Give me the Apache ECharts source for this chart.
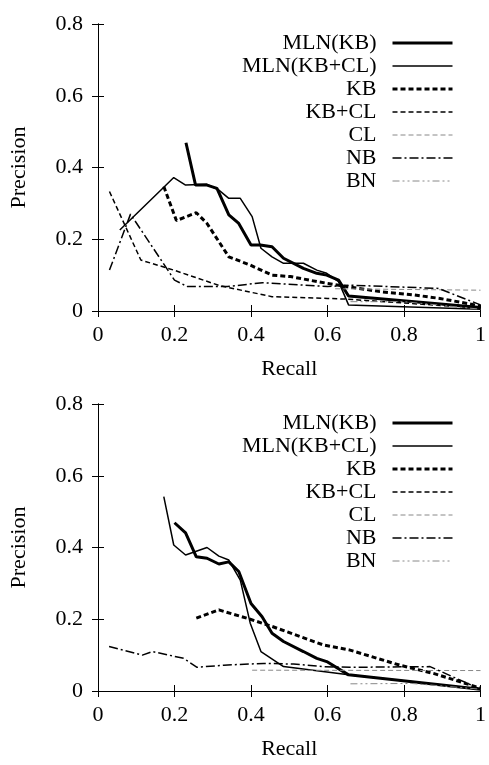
<!DOCTYPE html>
<html>
<head>
<meta charset="utf-8">
<script src="https://cdn.jsdelivr.net/npm/echarts@6/dist/echarts.min.js"></script>
<style>
html,body{margin:0;padding:0;background:#fff;}
#chart{width:489px;height:765px;}
</style>
</head>
<body>
<div id="chart"></div>
<script>
// legend order
var seriesNames = ['MLN(KB)', 'MLN(KB+CL)', 'KB', 'KB+CL', 'CL', 'NB', 'BN'];
var xTicks = [0, 0.2, 0.4, 0.6, 0.8, 1];
var yTicks = [0, 0.2, 0.4, 0.6, 0.8];

// upper chart, [recall, precision]
var topMlnKb = [[0.23,0.469],[0.255,0.351],[0.285,0.351],[0.311,0.342],[0.342,0.268],[0.368,0.244],[0.4,0.184],[0.424,0.184],[0.455,0.179],[0.485,0.147],[0.537,0.119],[0.572,0.105],[0.598,0.1],[0.629,0.086],[0.655,0.042],[1,0.01]];
var topMlnKbCl = [[0.057,0.226],[0.172,0.345],[0.198,0.372],[0.229,0.351],[0.285,0.353],[0.316,0.337],[0.342,0.314],[0.372,0.314],[0.403,0.263],[0.426,0.175],[0.455,0.151],[0.485,0.133],[0.537,0.133],[0.572,0.114],[0.598,0.105],[0.629,0.082],[0.655,0.017],[1,0.005]];
var topKb = [[0.172,0.347],[0.205,0.252],[0.257,0.274],[0.285,0.244],[0.342,0.151],[0.398,0.128],[0.455,0.1],[0.503,0.096],[0.572,0.082],[0.629,0.072],[0.737,0.054],[0.824,0.045],[0.894,0.035],[1,0.014]];
var topKbCl = [[0.03,0.333],[0.112,0.142],[0.198,0.114],[0.32,0.07],[0.455,0.04],[0.6,0.035],[0.65,0.033],[1,0.008]];
var topCl = [[0.62,0.062],[1,0.058]];
var topNb = [[0.03,0.114],[0.085,0.27],[0.2,0.086],[0.234,0.068],[0.338,0.068],[0.43,0.079],[0.6,0.068],[0.66,0.072],[0.89,0.063],[1,0.017]];
var topBn = [[0.66,0.026],[0.8,0.026],[1,0.005]];

// lower chart
var botMlnKb = [[0.2,0.469],[0.229,0.441],[0.257,0.374],[0.285,0.37],[0.316,0.354],[0.342,0.36],[0.368,0.333],[0.4,0.244],[0.429,0.207],[0.455,0.161],[0.485,0.138],[0.537,0.11],[0.572,0.091],[0.598,0.082],[0.655,0.045],[1,0.005]];
var botMlnKbCl = [[0.172,0.542],[0.198,0.407],[0.229,0.379],[0.285,0.4],[0.316,0.376],[0.342,0.365],[0.372,0.309],[0.398,0.189],[0.426,0.11],[0.485,0.068],[0.655,0.045],[1,0.005]];
var botKb = [[0.257,0.203],[0.316,0.226],[0.398,0.2],[0.455,0.18],[0.59,0.128],[0.659,0.114],[0.789,0.072],[0.877,0.049],[1,0.008]];
var botKbCl = [];
var botCl = [[0.403,0.058],[1,0.057]];
var botNb = [[0.029,0.124],[0.116,0.1],[0.142,0.11],[0.224,0.091],[0.259,0.066],[0.329,0.072],[0.433,0.077],[0.511,0.075],[0.59,0.068],[0.659,0.066],[0.868,0.068],[1,0.005]];
var botBn = [[0.66,0.02],[0.82,0.021],[1,0.005]];

var FONT = '"Liberation Serif", "DejaVu Serif", serif';
var FS = 22;

var styles = {
	'MLN(KB)':    {color:'#000', width:3,   type:'solid'},
	'MLN(KB+CL)': {color:'#000', width:1.5, type:'solid'},
	'KB':         {color:'#000', width:3,   type:[5,3]},
	'KB+CL':      {color:'#000', width:1.5, type:[5,3]},
	'CL':         {color:'#888', width:1,   type:[5,3]},
	'NB':         {color:'#000', width:1.5, type:[9,3,2,3]},
	'BN':         {color:'#888', width:1,   type:[7,3,2,3,2,3]}
};

function makeSeries(name, data, idx){
	var s = styles[name];
	return {
		name: name,
		type: 'line',
		xAxisIndex: idx,
		yAxisIndex: idx,
		data: data,
		symbol: 'none',
		animation: false,
		color: s.color,
		itemStyle: {opacity: 0},
		lineStyle: {color: s.color, width: s.width, type: s.type}
	};
}

function xAxisMain(idx){
	return {
		type:'value', gridIndex: idx, min:0, max:1, interval:0.2,
		name:'Recall', nameLocation:'middle', nameGap:47,
		nameTextStyle:{fontFamily:FONT, fontSize:FS, color:'#000'},
		axisLine:{lineStyle:{color:'#000', width:1}},
		axisTick:{inside:true, length:6, lineStyle:{color:'#000'}},
		axisLabel:{fontFamily:FONT, fontSize:FS, color:'#000', margin:13,
			formatter:function(v){ return String(+v.toFixed(1)); }},
		splitLine:{show:false}
	};
}
function xAxisMirror(idx){
	return {
		type:'value', gridIndex: idx, min:0, max:1, interval:0.2, position:'top',
		axisLine:{lineStyle:{color:'#000', width:1}},
		axisTick:{inside:true, length:6, lineStyle:{color:'#000'}},
		axisLabel:{show:false}, splitLine:{show:false}
	};
}
function yAxisMain(idx){
	return {
		type:'value', gridIndex: idx, min:0, max:0.8, interval:0.2,
		name:'Precision', nameLocation:'middle', nameGap:68, nameRotate:90,
		nameTextStyle:{fontFamily:FONT, fontSize:FS, color:'#000'},
		axisLine:{show:true, lineStyle:{color:'#000', width:1}},
		axisTick:{show:true, inside:true, length:6, lineStyle:{color:'#000'}},
		axisLabel:{fontFamily:FONT, fontSize:FS, color:'#000', margin:15,
			formatter:function(v){ return String(+v.toFixed(1)); }},
		splitLine:{show:false}
	};
}
function yAxisMirror(idx){
	return {
		type:'value', gridIndex: idx, min:0, max:0.8, interval:0.2, position:'right',
		axisLine:{show:true, lineStyle:{color:'#000', width:1}},
		axisTick:{show:true, inside:true, length:6, lineStyle:{color:'#000'}},
		axisLabel:{show:false}, splitLine:{show:false}
	};
}
function makeLegend(top){
	var items = [];
	for(var i=0;i<seriesNames.length;i++){
		var s = styles[seriesNames[i]];
		items.push({name: seriesNames[i], lineStyle:{color:s.color, width:s.width, type:s.type}});
	}
	return {
		top: top, right: 30, orient:'vertical', align:'right',
		itemWidth: 60, itemHeight: 14, itemGap: 1,
		itemStyle: {opacity: 0},
		lineStyle: {width: 'inherit'},
		textStyle:{fontFamily:FONT, fontSize:FS, lineHeight:20, color:'#000', padding:[0,11,0,0]},
		data: items
	};
}

var topData = [topMlnKb, topMlnKbCl, topKb, topKbCl, topCl, topNb, topBn];
var botData = [botMlnKb, botMlnKbCl, botKb, botKbCl, botCl, botNb, botBn];

var series = [];
for(var i=0;i<seriesNames.length;i++){
	series.push(makeSeries(seriesNames[i], topData[i], 0));
}
for(var i=0;i<seriesNames.length;i++){
	series.push(makeSeries(seriesNames[i], botData[i], 2));
}

var myChart = echarts.init(document.getElementById('chart'));
var option = {
	backgroundColor:'#fff',
	animation:false,
	legend:[makeLegend(27), makeLegend(407)],
	grid:[
		{left:97, top:24, width:384, height:287},
		{left:97, top:404, width:384, height:287}
	],
	xAxis:[xAxisMain(0), xAxisMirror(0), xAxisMain(1), xAxisMirror(1)],
	yAxis:[yAxisMain(0), yAxisMirror(0), yAxisMain(1), yAxisMirror(1)],
	series: series
};
myChart.setOption(option);
</script>
</body>
</html>
